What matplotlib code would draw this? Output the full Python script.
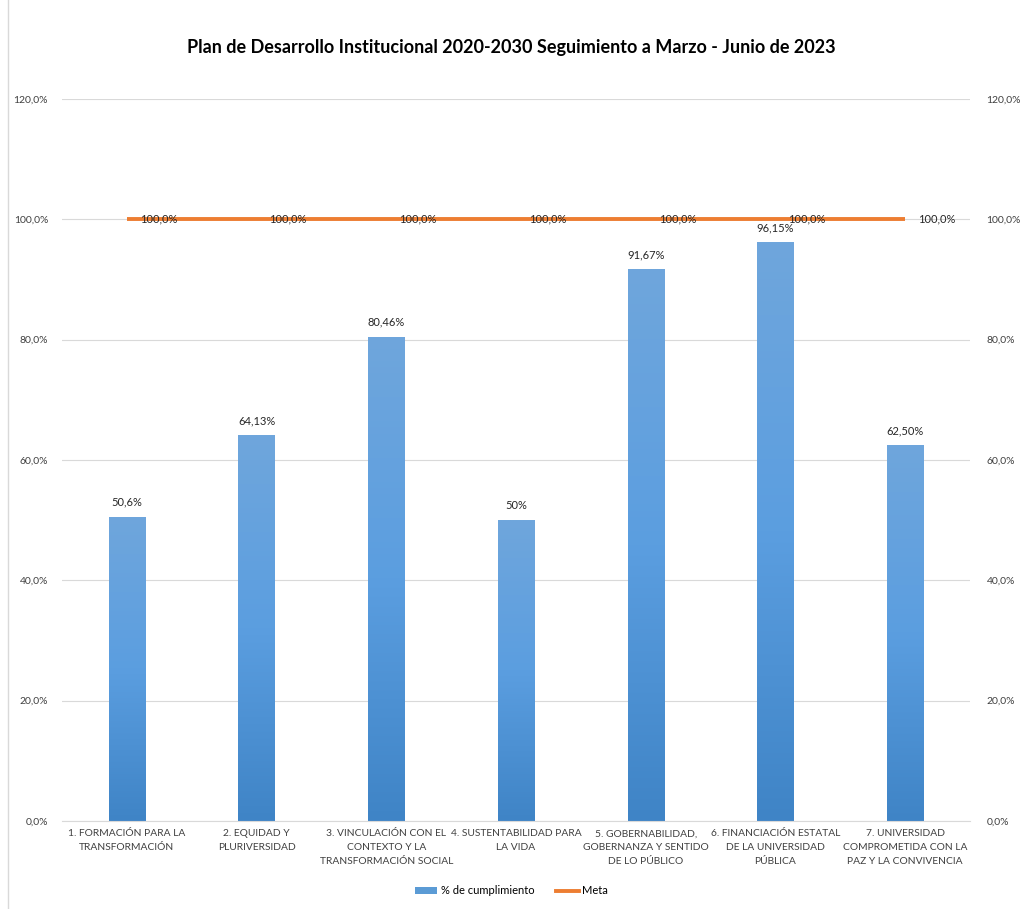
import matplotlib
matplotlib.use("Agg")
import matplotlib.pyplot as plt
import numpy as np
from matplotlib.colors import LinearSegmentedColormap
from matplotlib.ticker import FuncFormatter
from matplotlib.lines import Line2D
from matplotlib.patches import Patch

plt.rcParams["font.family"] = ["Lato", "DejaVu Sans"]

categorias = [
    "1. FORMACIÓN PARA LA\nTRANSFORMACIÓN",
    "2. EQUIDAD Y\nPLURIVERSIDAD",
    "3. VINCULACIÓN CON EL\nCONTEXTO Y LA\nTRANSFORMACIÓN SOCIAL",
    "4. SUSTENTABILIDAD PARA\nLA VIDA",
    "5. GOBERNABILIDAD,\nGOBERNANZA Y SENTIDO\nDE LO PÚBLICO",
    "6. FINANCIACIÓN ESTATAL\nDE LA UNIVERSIDAD\nPÚBLICA",
    "7. UNIVERSIDAD\nCOMPROMETIDA CON LA\nPAZ Y LA CONVIVENCIA",
]
cumplimiento = [50.6, 64.13, 80.46, 50.0, 91.67, 96.15, 62.50]
etiquetas_cumpl = ["50,6%", "64,13%", "80,46%", "50%", "91,67%", "96,15%", "62,50%"]
meta = [100, 100, 100, 100, 100, 100, 100]

fig = plt.figure(figsize=(10.23, 9.09), dpi=100)
ax = fig.add_axes([62 / 1023, 1 - 821 / 909, (970 - 62) / 1023, (821 - 99) / 909])

x = np.arange(len(categorias))
ancho = 0.28
cmap = LinearSegmentedColormap.from_list("azul", ["#3f84c6", "#5b9ee0", "#6fa6dc"])
grad = np.linspace(0, 1, 256).reshape(-1, 1)
bars = ax.bar(x, cumplimiento, width=ancho, color="none", zorder=2)
for b in bars:
    x0, y0 = b.get_x(), b.get_y()
    im = ax.imshow(grad, cmap=cmap, aspect="auto", origin="lower",
                   extent=[x0, x0 + b.get_width(), y0, y0 + b.get_height()], zorder=2)
    im.set_clip_path(b)

for xi, v, t in zip(x, cumplimiento, etiquetas_cumpl):
    ax.text(xi, v + 1.5, t, ha="center", va="bottom", fontsize=8, color="#262626")

ax.plot(x, meta, color="#ed7d31", linewidth=2.8, zorder=3, solid_capstyle="butt")
for xi, v in zip(x, meta):
    ax.text(xi + 0.1, v, "100,0%", ha="left", va="center", fontsize=8, color="#262626", zorder=4)

ax.set_xlim(-0.5, len(categorias) - 0.5)
ax.set_ylim(0, 120)
ax.set_yticks(np.arange(0, 121, 20))
fmt = FuncFormatter(lambda v, p: f"{v:.1f}%".replace(".", ","))
ax.yaxis.set_major_formatter(fmt)
ax.grid(axis="y", color="#d9d9d9", linewidth=0.8, zorder=0)
ax.set_axisbelow(True)
for s in ["top", "left", "right"]:
    ax.spines[s].set_visible(False)
ax.spines["bottom"].set_color("#d9d9d9")
ax.tick_params(axis="y", length=0, labelsize=7.5, labelcolor="#404040", pad=10)
ax.tick_params(axis="x", length=0, labelsize=7.4, labelcolor="#404040", pad=6)
ax.set_xticks(x)
ax.set_xticklabels(categorias, linespacing=1.7)

ax2 = ax.twinx()
ax2.set_ylim(0, 120)
ax2.set_yticks(np.arange(0, 121, 20))
ax2.yaxis.set_major_formatter(fmt)
for s in ["top", "left", "right", "bottom"]:
    ax2.spines[s].set_visible(False)
ax2.tick_params(axis="y", length=0, labelsize=7.5, labelcolor="#404040", pad=12)

fig.text(0.5, 1 - 48 / 909, "Plan de Desarrollo Institucional 2020-2030 Seguimiento a Marzo - Junio de 2023",
         ha="center", va="center", fontsize=13, fontweight="bold", color="#000000")

handles = [Patch(facecolor="#5b9bd5", label="% de cumplimiento"),
           Line2D([0], [0], color="#ed7d31", linewidth=2.8, label="Meta")]
fig.legend(handles=handles, loc="center", bbox_to_anchor=(0.5, 1 - 891 / 909), ncol=2,
           frameon=False, fontsize=8, handlelength=2, handleheight=0.5, handletextpad=0.3,
           columnspacing=2)

fig.add_artist(Line2D([8 / 1023, 8 / 1023], [0, 1], color="#d9d9d9", linewidth=1))

fig.savefig("out.png", dpi=100)
